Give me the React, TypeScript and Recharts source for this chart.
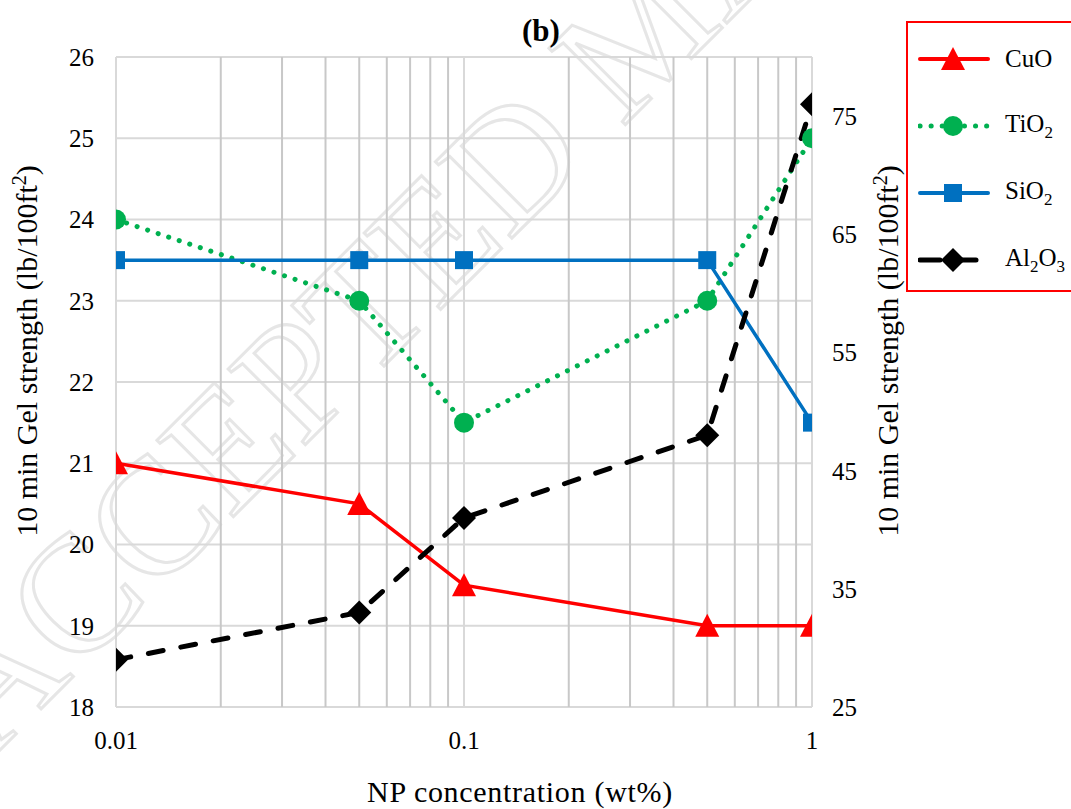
import React from "react";
import {
  LineChart,
  Line,
  XAxis,
  YAxis,
  CartesianGrid,
  ReferenceLine,
} from "recharts";

const concentrations = [0.01, 0.05, 0.1, 0.5, 1];
const cuo = [21, 20.5, 19.5, 19, 19];
const tio2 = [24, 23, 21.5, 23, 25];
const sio2 = [23.5, 23.5, 23.5, 23.5, 21.5];
const al2o3 = [29, 33, 41, 48, 76];

const xTicks = [0.01, 0.1, 1];
const leftTicks = [18, 19, 20, 21, 22, 23, 24, 25, 26];
const rightTicks = [25, 35, 45, 55, 65, 75];
const minorGrid = [
  0.02, 0.03, 0.04, 0.05, 0.06, 0.07, 0.08, 0.09, 0.2, 0.3, 0.4, 0.5, 0.6,
  0.7, 0.8, 0.9,
];
const seriesNames = ["CuO", "TiO2", "SiO2", "Al2O3"];
const seriesKeys = ["cuo", "tio2", "sio2", "al2o3"];

const data = concentrations.map((c, i) => ({
  x: c,
  cuo: cuo[i],
  tio2: tio2[i],
  sio2: sio2[i],
  al2o3: al2o3[i],
}));

const FONT = "'Liberation Serif', 'Times New Roman', Times, serif";
const RED = "#ff0000";
const GREEN = "#00b050";
const BLUE = "#0070c0";
const BLACK = "#000000";

const Triangle = (props: any) => {
  const { cx, cy, index } = props;
  if (cx == null || cy == null) return <g key={`t${index}`} />;
  return (
    <path
      key={`t${index}`}
      d={`M${cx},${cy - 12} L${cx + 12},${cy + 11} L${cx - 12},${cy + 11} Z`}
      fill={RED}
    />
  );
};
const Circle = (props: any) => {
  const { cx, cy, index } = props;
  if (cx == null || cy == null) return <g key={`c${index}`} />;
  return <circle key={`c${index}`} cx={cx} cy={cy} r={10} fill={GREEN} />;
};
const Square = (props: any) => {
  const { cx, cy, index } = props;
  if (cx == null || cy == null) return <g key={`s${index}`} />;
  return (
    <rect key={`s${index}`} x={cx - 9} y={cy - 9} width={18} height={18} fill={BLUE} />
  );
};
const Diamond = (props: any) => {
  const { cx, cy, index } = props;
  if (cx == null || cy == null) return <g key={`d${index}`} />;
  return (
    <path
      key={`d${index}`}
      d={`M${cx},${cy - 12} L${cx + 12},${cy} L${cx},${cy + 12} L${cx - 12},${cy} Z`}
      fill={BLACK}
    />
  );
};

const tickStyle = { fontFamily: FONT, fontSize: 25, fill: "#000" };

const renderName = (name: string) => {
  const parts = name.split(/(\d)/).filter((p) => p !== "");
  return parts.map((p, i) =>
    /\d/.test(p) ? (
      <sub key={i} style={{ fontSize: 17, verticalAlign: -6 }}>
        {p}
      </sub>
    ) : (
      <span key={i}>{p}</span>
    )
  );
};

const LegendSample = ({ k }: { k: string }) => {
  return (
    <svg width={74} height={30} style={{ display: "block" }}>
      {k === "cuo" && (
        <>
          <line x1={2} y1={15} x2={70} y2={15} stroke={RED} strokeWidth={4} strokeLinecap="round" />
          <path d="M35,3 L47,26 L23,26 Z" fill={RED} />
        </>
      )}
      {k === "tio2" && (
        <>
          <line x1={2} y1={15} x2={72} y2={15} stroke={GREEN} strokeWidth={5} strokeDasharray="0.1 11" strokeLinecap="round" />
          <circle cx={35} cy={15} r={10} fill={GREEN} />
        </>
      )}
      {k === "sio2" && (
        <>
          <line x1={2} y1={15} x2={70} y2={15} stroke={BLUE} strokeWidth={4} strokeLinecap="round" />
          <rect x={26} y={6} width={18} height={18} fill={BLUE} />
        </>
      )}
      {k === "al2o3" && (
        <>
          <line x1={2} y1={15} x2={22} y2={15} stroke={BLACK} strokeWidth={5} strokeLinecap="round" />
          <line x1={40} y1={15} x2={58} y2={15} stroke={BLACK} strokeWidth={5} strokeLinecap="round" />
          <path d="M35,3 L47,15 L35,27 L23,15 Z" fill={BLACK} />
        </>
      )}
    </svg>
  );
};

const LegendBox = () => (
  <div
    style={{
      position: "absolute",
      left: 906,
      top: 21,
      width: 175,
      height: 271,
      border: `2px solid ${RED}`,
      background: "#fff",
      fontFamily: FONT,
      fontSize: 25,
      boxSizing: "border-box",
      paddingTop: 2,
    }}
  >
    {seriesKeys.map((k, i) => (
      <div
        key={k}
        style={{ display: "flex", alignItems: "center", height: 67, paddingLeft: 10 }}
      >
        <LegendSample k={k} />
        <span style={{ marginLeft: 13, lineHeight: 1 }}>{renderName(seriesNames[i])}</span>
      </div>
    ))}
  </div>
);

const AxisTitle = ({ x, y }: { x: number; y: number }) => (
  <text
    x={x}
    y={y}
    transform={`rotate(-90, ${x}, ${y})`}
    textAnchor="middle"
    fontFamily={FONT}
    fontSize={30}
    fill="#000"
  >
    10 min Gel strength (lb/100ft
    <tspan baselineShift="super" fontSize={20}>2</tspan>
    <tspan>)</tspan>
  </text>
);

export default function App() {
  return (
    <div
      style={{
        position: "absolute",
        left: 0,
        top: 0,
        width: 1071,
        height: 809,
        background: "#fff",
        overflow: "hidden",
      }}
    >
      <svg
        width={1071}
        height={809}
        style={{ position: "absolute", left: 0, top: 0 }}
      >
        <text
          x={-10}
          y={760}
          transform="rotate(-45, -10, 760)"
          fontFamily={FONT}
          fontSize={165}
          fill="none"
          stroke="#e6e6e6"
          strokeWidth={3}
        >
          ACCEPTED MANUSCRIPT
        </text>
      </svg>
      <div style={{ position: "absolute", left: 0, top: 0 }}>
        <LineChart
          width={1071}
          height={809}
          data={data}
          margin={{ top: 57, right: 199, bottom: 62, left: 56 }}
        >
          <CartesianGrid
            yAxisId="left"
            vertical={false}
            stroke="#d9d9d9"
            strokeWidth={2}
          />
          {minorGrid.map((v) => (
            <ReferenceLine
              key={v}
              x={v}
              yAxisId="left"
              stroke="#c8c8c8"
              strokeWidth={2}
            />
          ))}
          {xTicks.map((v) => (
            <ReferenceLine
              key={`m${v}`}
              x={v}
              yAxisId="left"
              stroke="#d9d9d9"
              strokeWidth={2}
            />
          ))}
          <XAxis
            dataKey="x"
            type="number"
            scale="log"
            domain={[0.01, 1]}
            ticks={xTicks}
            tickFormatter={(v: number) => String(v)}
            axisLine={false}
            tickLine={false}
            tick={tickStyle}
            tickMargin={18}
            height={40}
            allowDataOverflow
          />
          <YAxis
            yAxisId="left"
            domain={[18, 26]}
            ticks={leftTicks}
            axisLine={false}
            tickLine={false}
            tick={tickStyle}
            tickMargin={16}
            width={60}
          />
          <YAxis
            yAxisId="right"
            orientation="right"
            domain={[25, 80]}
            ticks={rightTicks}
            axisLine={false}
            tickLine={false}
            tick={{ ...tickStyle, textAnchor: "start" }}
            tickMargin={14}
            width={60}
          />
          <Line
            yAxisId="left"
            dataKey="cuo"
            name="CuO"
            stroke={RED}
            strokeWidth={3.5}
            dot={Triangle}
            activeDot={false}
            isAnimationActive={false}
          />
          <Line
            yAxisId="left"
            dataKey="tio2"
            name="TiO2"
            stroke={GREEN}
            strokeWidth={5}
            strokeDasharray="0.1 11"
            strokeLinecap="round"
            dot={Circle}
            activeDot={false}
            isAnimationActive={false}
          />
          <Line
            yAxisId="left"
            dataKey="sio2"
            name="SiO2"
            stroke={BLUE}
            strokeWidth={3.5}
            dot={Square}
            activeDot={false}
            isAnimationActive={false}
          />
          <Line
            yAxisId="right"
            dataKey="al2o3"
            name="Al2O3"
            stroke={BLACK}
            strokeWidth={5}
            strokeDasharray="15 18"
            strokeLinecap="round"
            dot={Diamond}
            activeDot={false}
            isAnimationActive={false}
          />
        </LineChart>
      </div>
      <LegendBox />
      <svg
        width={1071}
        height={809}
        style={{ position: "absolute", left: 0, top: 0, pointerEvents: "none" }}
      >
        <text
          x={541}
          y={34}
          textAnchor="middle"
          dominantBaseline="middle"
          fontFamily={FONT}
          fontSize={31}
          fontWeight="bold"
        >
          (b)
        </text>
        <text
          x={520}
          y={802}
          textAnchor="middle"
          fontFamily={FONT}
          fontSize={30}
          letterSpacing={0.7}
        >
          NP concentration (wt%)
        </text>
        <AxisTitle x={37} y={351} />
        <AxisTitle x={898} y={351} />
      </svg>
    </div>
  );
}
